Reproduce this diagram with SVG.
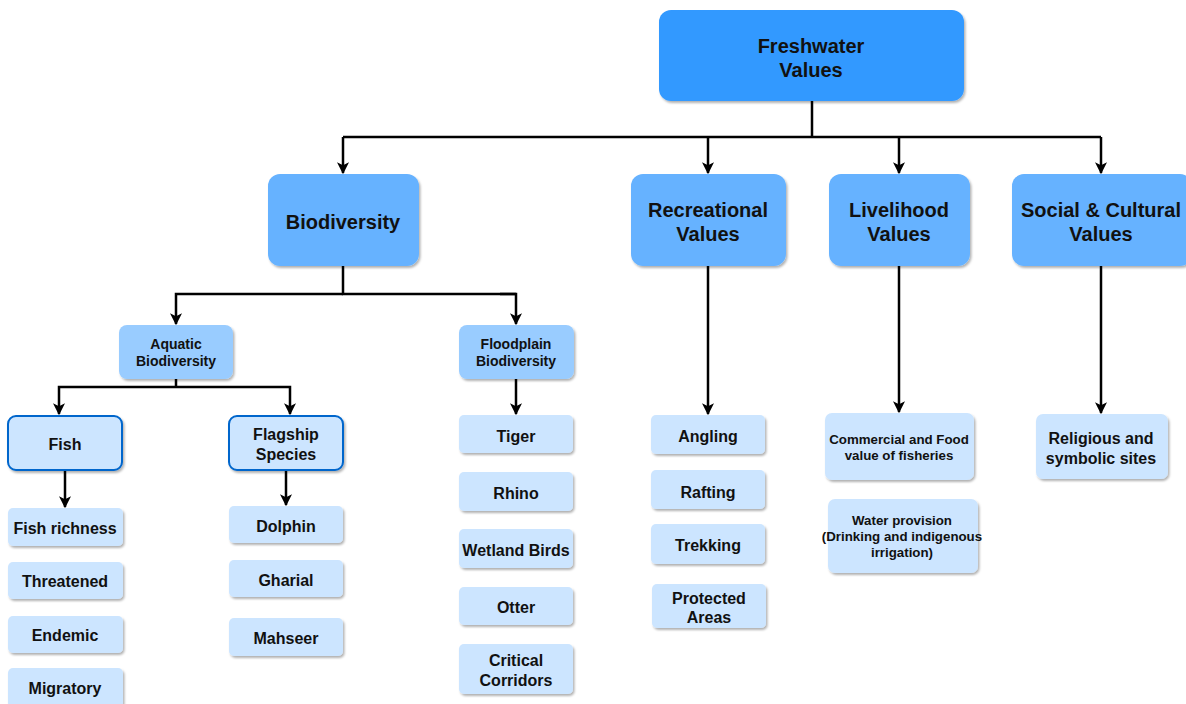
<svg xmlns="http://www.w3.org/2000/svg" width="1186" height="704" viewBox="0 0 1186 704">
<defs>
<filter id="sh" x="-10%" y="-10%" width="130%" height="140%">
<feDropShadow dx="1.5" dy="2" stdDeviation="1.2" flood-color="#000" flood-opacity="0.3"/>
</filter>
<marker id="ah" viewBox="0 0 10 10" refX="9" refY="5" markerWidth="4.8" markerHeight="4.8" markerUnits="strokeWidth" orient="auto">
<path d="M0,0 L10,5 L0,10 L2.5,5 Z" fill="#000"/>
</marker>
<style>
text{font-family:"Liberation Sans",Arial,sans-serif;font-weight:bold;fill:#111;text-anchor:middle}
.l1{fill:#3399FF;filter:url(#sh)}
.l2{fill:#66B2FF;filter:url(#sh)}
.l3{fill:#99CCFF;filter:url(#sh)}
.l4{fill:#CCE5FF;stroke:#0066CC;stroke-width:2;filter:url(#sh)}
.lf{fill:#CCE5FF;filter:url(#sh)}
.t18{font-size:20px}
.t13{font-size:14px}
.t15{font-size:16px}
.t12{font-size:13.3px}
.c{fill:none;stroke:#000;stroke-width:2.5}
.ca{fill:none;stroke:#000;stroke-width:2.5;marker-end:url(#ah)}
</style>
</defs>
<rect width="1186" height="704" fill="#fff"/>
<g id="connectors">
<path class="c" d="M812,101 V137 M343,137 H1101"/>
<path class="ca" d="M343,137 V173"/>
<path class="ca" d="M708,137 V173"/>
<path class="ca" d="M899,137 V173"/>
<path class="ca" d="M1101,137 V173"/>
<path class="c" d="M343,266 V294 H516"/>
<path class="ca" d="M343,294 H176 V324"/>
<path class="ca" d="M500,294 H516 V324"/>
<path class="c" d="M176,379 V387"/>
<path class="ca" d="M176,387 H59 V414"/>
<path class="ca" d="M176,387 H290 V414"/>
<path class="ca" d="M65,470 V507"/>
<path class="ca" d="M286,470 V505"/>
<path class="ca" d="M516,379 V414"/>
<path class="ca" d="M708,266 V414"/>
<path class="ca" d="M899,266 V412"/>
<path class="ca" d="M1101,266 V413"/>
</g>
<g id="freshwater"><rect class="l1" x="659" y="10" width="305" height="91" rx="12"/><text class="t18" x="811" y="53">Freshwater</text><text class="t18" x="811" y="77">Values</text></g>
<g id="biodiversity"><rect class="l2" x="268" y="174" width="151" height="92" rx="12"/><text class="t18" x="343" y="229">Biodiversity</text></g>
<g id="recreational"><rect class="l2" x="631" y="174" width="155" height="92" rx="12"/><text class="t18" x="708" y="217">Recreational</text><text class="t18" x="708" y="241">Values</text></g>
<g id="livelihood"><rect class="l2" x="829" y="174" width="141" height="92" rx="12"/><text class="t18" x="899" y="217">Livelihood</text><text class="t18" x="899" y="241">Values</text></g>
<g id="social"><rect class="l2" x="1012" y="174" width="180" height="92" rx="12"/><text class="t18" x="1101" y="217">Social &amp; Cultural</text><text class="t18" x="1101" y="241">Values</text></g>
<g id="aquatic"><rect class="l3" x="119" y="325" width="114" height="54" rx="8"/><text class="t13" x="176" y="349">Aquatic</text><text class="t13" x="176" y="366">Biodiversity</text></g>
<g id="floodplain"><rect class="l3" x="459" y="325" width="115" height="54" rx="8"/><text class="t13" x="516" y="349">Floodplain</text><text class="t13" x="516" y="366">Biodiversity</text></g>
<g id="fish"><rect class="l4" x="8" y="416" width="114" height="54" rx="8"/><text class="t15" x="65" y="450">Fish</text></g>
<g id="flagship"><rect class="l4" x="229" y="416" width="114" height="54" rx="8"/><text class="t15" x="286" y="440">Flagship</text><text class="t15" x="286" y="460">Species</text></g>
<g id="fishrichness"><rect class="lf" x="8" y="508" width="115" height="38" rx="5"/><text class="t15" x="65" y="534">Fish richness</text></g>
<g id="threatened"><rect class="lf" x="8" y="562" width="115" height="37" rx="5"/><text class="t15" x="65" y="587">Threatened</text></g>
<g id="endemic"><rect class="lf" x="8" y="616" width="115" height="37" rx="5"/><text class="t15" x="65" y="641">Endemic</text></g>
<g id="migratory"><rect class="lf" x="8" y="668" width="115" height="40" rx="5"/><text class="t15" x="65" y="694">Migratory</text></g>
<g id="dolphin"><rect class="lf" x="229" y="506" width="114" height="37" rx="5"/><text class="t15" x="286" y="532">Dolphin</text></g>
<g id="gharial"><rect class="lf" x="229" y="560" width="114" height="37" rx="5"/><text class="t15" x="286" y="586">Gharial</text></g>
<g id="mahseer"><rect class="lf" x="229" y="618" width="114" height="38" rx="5"/><text class="t15" x="286" y="644">Mahseer</text></g>
<g id="tiger"><rect class="lf" x="459" y="415" width="114" height="38" rx="5"/><text class="t15" x="516" y="442">Tiger</text></g>
<g id="rhino"><rect class="lf" x="459" y="472" width="114" height="39" rx="5"/><text class="t15" x="516" y="499">Rhino</text></g>
<g id="wetlandbirds"><rect class="lf" x="459" y="529" width="114" height="39" rx="5"/><text class="t15" x="516" y="556">Wetland Birds</text></g>
<g id="otter"><rect class="lf" x="459" y="587" width="114" height="38" rx="5"/><text class="t15" x="516" y="613">Otter</text></g>
<g id="corridors"><rect class="lf" x="459" y="644" width="114" height="50" rx="5"/><text class="t15" x="516" y="666">Critical</text><text class="t15" x="516" y="686">Corridors</text></g>
<g id="angling"><rect class="lf" x="651" y="415" width="114" height="39" rx="5"/><text class="t15" x="708" y="442">Angling</text></g>
<g id="rafting"><rect class="lf" x="651" y="470" width="114" height="39" rx="5"/><text class="t15" x="708" y="498">Rafting</text></g>
<g id="trekking"><rect class="lf" x="651" y="524" width="114" height="40" rx="5"/><text class="t15" x="708" y="551">Trekking</text></g>
<g id="protected"><rect class="lf" x="652" y="584" width="114" height="44" rx="5"/><text class="t15" x="709" y="604">Protected</text><text class="t15" x="709" y="623">Areas</text></g>
<g id="commercial"><rect class="lf" x="825" y="413" width="149" height="67" rx="7"/><text class="t12" x="899" y="444">Commercial and Food</text><text class="t12" x="899" y="460">value of fisheries</text></g>
<g id="water"><rect class="lf" x="828" y="499" width="150" height="74" rx="7"/><text class="t12" x="902" y="525">Water provision</text><text class="t12" x="902" y="541">(Drinking and indigenous</text><text class="t12" x="902" y="557">irrigation)</text></g>
<g id="religious"><rect class="lf" x="1036" y="414" width="132" height="65" rx="7"/><text class="t15" x="1101" y="444">Religious and</text><text class="t15" x="1101" y="464">symbolic sites</text></g>
</svg>
